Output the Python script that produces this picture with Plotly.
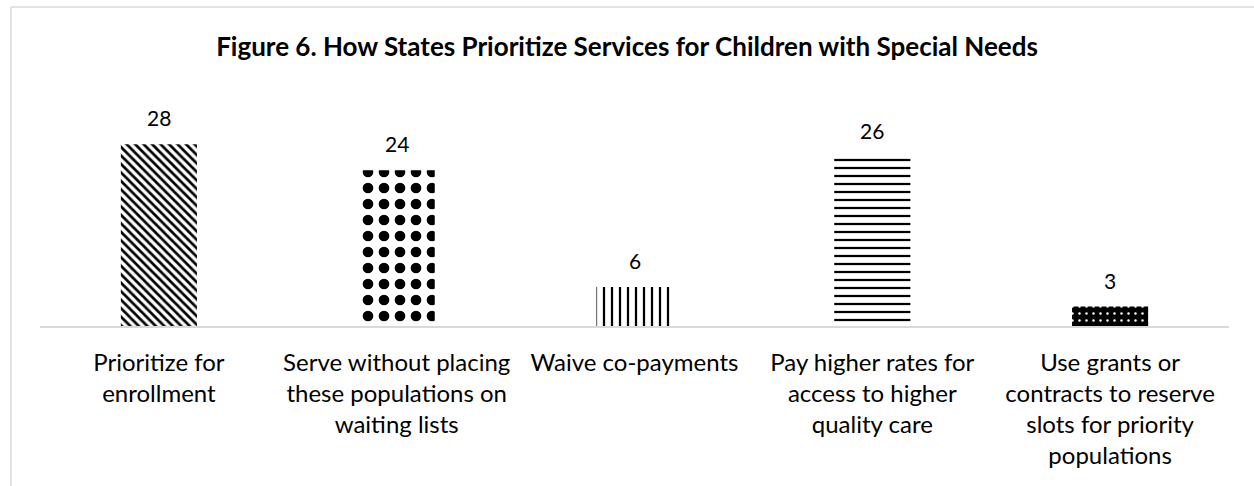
import plotly.graph_objects as go

# Figure 6 data: number of states using each prioritization approach
categories = [
    "Prioritize for<br>enrollment",
    "Serve without placing<br>these populations on<br>waiting lists",
    "Waive co-payments",
    "Pay higher rates for<br>access to higher<br>quality care",
    "Use grants or<br>contracts to reserve<br>slots for priority<br>populations",
]
states = [28, 24, 6, 26, 3]

# per-bar fill patterns (black & white print style)
pattern_shapes = ["\\", ".", "|", "-", "."]
pattern_sizes = [6, 16, 8, 8, 7]
pattern_solidity = [0.45, 0.35, 0.28, 0.28, 0.1]
pattern_fg = ["black", "black", "black", "black", "white"]
pattern_bg = ["white", "white", "white", "white", "black"]

FONT = "Lato, Calibri, sans-serif"

fig = go.Figure()
for i, (cat, val) in enumerate(zip(categories, states)):
    fig.add_trace(
        go.Bar(
            x=[cat],
            y=[val],
            width=0.32,
            marker=dict(
                color=pattern_bg[i],
                line=dict(width=0),
                pattern=dict(
                    shape=pattern_shapes[i],
                    size=pattern_sizes[i],
                    solidity=pattern_solidity[i],
                    fgcolor=pattern_fg[i],
                    bgcolor=pattern_bg[i],
                    fillmode="replace",
                ),
            ),
            hoverinfo="x+y",
        )
    )
    # value label above the bar
    fig.add_annotation(
        x=cat, y=val, text=str(val), showarrow=False,
        yanchor="bottom", yshift=12,
        font=dict(family=FONT, size=21, color="#000000"),
    )

# light frame along the top and left edge
frame = dict(color="#d9d9d9", width=1.5)
fig.add_shape(type="line", xref="paper", yref="paper",
              x0=-0.0244, x1=1.03, y0=1.4115, y1=1.4115, line=frame)
fig.add_shape(type="line", xref="paper", yref="paper",
              x0=-0.0244, x1=-0.0244, y0=1.4115, y1=-0.72, line=frame)

fig.update_layout(
    width=1254,
    height=486,
    paper_bgcolor="white",
    plot_bgcolor="white",
    margin=dict(l=40, r=25, t=100, b=160),
    showlegend=False,
    barmode="overlay",
    title=dict(
        text="<b>Figure 6. How States Prioritize Services for Children with Special Needs</b>",
        x=0.5, xref="container", xanchor="center",
        y=1 - 47 / 486, yref="container", yanchor="middle",
        font=dict(family=FONT, size=26, color="#000000"),
    ),
    xaxis=dict(
        showline=True, linecolor="#d9d9d9", linewidth=2,
        showgrid=False, ticks="", ticklabelstandoff=14,
        tickfont=dict(family=FONT, size=24, color="#000000"),
        fixedrange=True,
    ),
    yaxis=dict(
        range=[0, 34.8], visible=False, showgrid=False, zeroline=False,
        fixedrange=True,
    ),
)

fig.write_html("out.html")
